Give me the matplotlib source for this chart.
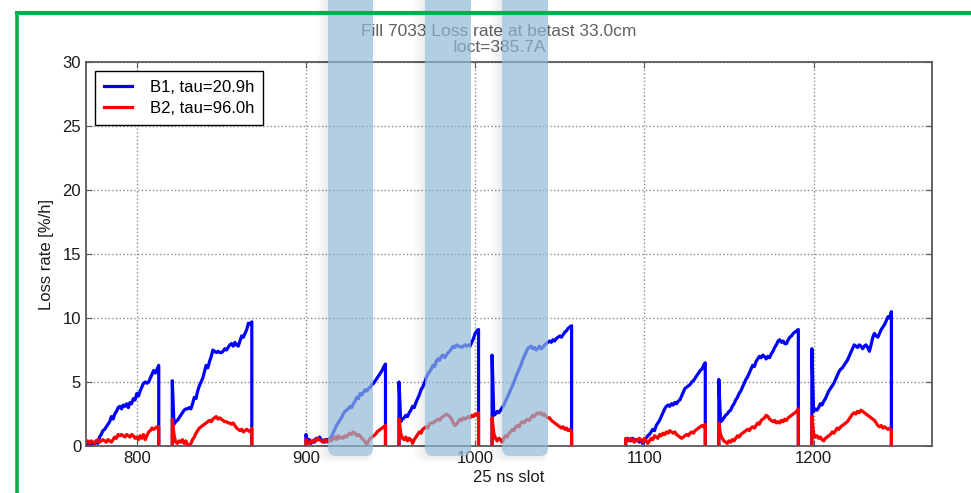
import numpy as np
import matplotlib
matplotlib.use("Agg")
import matplotlib.pyplot as plt
from matplotlib.patches import FancyBboxPatch

plt.rcParams["font.family"] = ["Liberation Sans", "DejaVu Sans"]

# bunch trains: first slot of each train, then per-slot loss rates [%/h]
train_start = [767, 821, 900, 955, 1010, 1089, 1144, 1199]

b1_t1 = [0.2, 0.4, 0.1,
         0.3, 0.1, 0.2, 0.0, 0.3, 0.1, 0.4, 0.2, 0.7, 0.9,
         1.2, 1.3, 1.5, 1.7, 1.9, 2.3, 2.1, 2.5, 2.7, 3.0,
         3.1, 2.9, 3.2, 3.1, 3.3, 3.0, 3.4, 3.3, 3.7, 3.6,
         4.1, 3.9, 4.3, 4.6, 4.9, 5.0, 4.9, 5.0, 5.3, 5.6,
         5.9, 5.7, 6.0, 6.3]
b1_t2 = [5.1, 1.7, 1.9, 2.0, 2.2, 2.4, 2.6, 2.8, 2.9, 2.9,
         3.0, 2.9, 3.3, 3.8, 3.7, 4.3, 4.7, 5.0, 5.3, 5.8,
         6.3, 6.1, 6.6, 7.0, 7.5, 7.4, 7.3, 7.4, 7.3, 7.3,
         7.4, 7.6, 7.5, 7.7, 7.9, 8.0, 7.8, 8.1, 7.9, 7.8,
         8.2, 8.6, 8.5, 8.8, 9.1, 9.6, 9.5, 9.7]
b1_t3 = [0.9, 0.3, 0.5, 0.2, 0.4, 0.3, 0.6, 0.5, 0.7, 0.5,
         0.4, 0.3, 0.5, 0.4, 0.6, 0.7, 1.0, 1.3, 1.6, 1.8,
         2.0, 2.2, 2.5, 2.7, 2.8, 2.9, 3.1, 3.0, 3.3, 3.5,
         3.8, 3.7, 4.1, 4.0, 4.2, 4.4, 4.3, 4.5, 4.6, 4.8,
         4.9, 5.1, 5.3, 5.5, 5.7, 5.9, 6.2, 6.4]
b1_t4 = [5.0, 1.9, 2.1, 2.2, 2.4, 2.3, 2.6, 2.8, 3.1, 3.0,
         3.4, 3.7, 4.0, 4.4, 4.6, 4.9, 5.3, 5.6, 5.8, 6.0,
         6.3, 6.2, 6.6, 6.8, 6.7, 7.0, 7.1, 6.9, 7.1, 7.3,
         7.4, 7.6, 7.8, 7.7, 7.9, 7.8, 7.8, 7.7, 7.8, 7.9,
         7.8, 7.9, 7.8, 8.1, 8.4, 8.8, 9.0, 9.1]
b1_t5 = [7.1, 2.4, 2.5, 2.7, 2.6, 2.8, 3.0, 3.2, 3.5, 3.8,
         4.1, 4.4, 4.7, 5.0, 5.4, 5.7, 6.0, 6.3, 6.7, 7.0,
         7.3, 7.6, 7.7, 7.8, 7.6, 7.7, 7.5, 7.6, 7.8, 7.6,
         7.7, 7.9, 8.0, 8.1, 8.2, 8.1, 8.3, 8.2, 8.4, 8.5,
         8.6, 8.5, 8.7, 8.9, 9.0, 9.2, 9.3, 9.4]
b1_t6 = [0.5, 0.6, 0.5, 0.4, 0.6, 0.5, 0.4, 0.5, 0.3, 0.4,
         0.2, 0.4, 0.6, 0.8, 0.9, 1.1, 1.3, 1.2, 1.6, 1.8,
         2.0, 2.3, 2.6, 2.9, 3.1, 3.2, 3.1, 3.3, 3.2, 3.4,
         3.3, 3.5, 3.6, 3.9, 4.2, 4.5, 4.6, 4.7, 4.8, 5.0,
         5.1, 5.3, 5.5, 5.7, 5.9, 6.0, 6.3, 6.5]
b1_t7 = [5.2, 1.9, 2.0, 2.2, 2.4, 2.5, 2.7, 2.8, 3.1, 3.3,
         3.6, 3.8, 4.1, 4.3, 4.6, 4.9, 5.2, 5.4, 5.7, 6.0,
         6.3, 6.2, 6.6, 6.8, 7.0, 6.9, 7.1, 7.0, 6.8, 7.0,
         6.9, 7.2, 7.4, 7.7, 7.9, 8.2, 8.3, 8.1, 8.2, 8.0,
         8.0, 8.3, 8.5, 8.6, 8.8, 8.9, 9.0, 9.1]
b1_t8 = [7.6, 2.7, 2.9, 2.8, 3.0, 3.3, 3.2, 3.5, 3.7, 4.0,
         4.3, 4.5, 4.7, 4.9, 5.2, 5.5, 5.8, 6.0, 6.1, 6.3,
         6.5, 6.7, 7.0, 7.3, 7.6, 7.9, 7.8, 7.7, 7.9, 7.8,
         7.6, 7.8, 7.9, 7.7, 7.4, 7.9, 8.5, 8.8, 8.6, 8.5,
         8.8, 9.1, 9.3, 9.5, 9.8, 10.1, 10.0, 10.5]

b2_t1 = [0.2, 0.3, 0.1,
         0.3, 0.4, 0.2, 0.4, 0.3, 0.2, 0.4, 0.5, 0.3, 0.4,
         0.5, 0.4, 0.3, 0.5, 0.4, 0.3, 0.5, 0.7, 0.6, 0.9,
         0.8, 0.9, 0.8, 0.7, 0.9, 0.8, 0.7, 0.9, 0.8, 0.6,
         0.7, 0.5, 0.8, 0.6, 0.9, 0.5, 0.8, 1.1, 1.2, 1.4,
         1.3, 1.4, 1.5, 1.5]
b2_t2 = [2.1, 0.9, 0.3, 0.2, 0.4, 0.3, 0.5, 0.2, 0.4, 0.1,
         0.0, 0.2, 0.5, 0.7, 1.0, 1.2, 1.4, 1.5, 1.6, 1.7,
         1.8, 1.9, 2.0, 1.9, 2.1, 2.2, 2.3, 2.1, 2.2, 2.1,
         2.0, 1.9, 1.9, 1.8, 1.8, 1.7, 1.8, 1.6, 1.4, 1.3,
         1.2, 1.3, 1.1, 1.2, 1.3, 1.2, 1.1, 1.4]
b2_t3 = [0.5, 0.3, 0.2, 0.4, 0.3, 0.5, 0.4, 0.6, 0.5, 0.4,
         0.3, 0.5, 0.4, 0.3, 0.5, 0.4, 0.6, 0.7, 0.5, 0.8,
         0.6, 0.7, 0.6, 0.8, 0.7, 0.9, 1.0, 0.9, 1.1, 1.0,
         0.8, 0.9, 0.8, 0.6, 0.5, 0.3, 0.1, 0.4, 0.6, 0.7,
         0.8, 0.9, 1.1, 1.2, 1.3, 1.4, 1.5, 1.6]
b2_t4 = [2.1, 1.0, 0.6, 0.5, 0.7, 0.4, 0.6, 0.5, 0.2, 0.5,
         0.7, 0.9, 1.1, 1.0, 1.3, 1.4, 1.5, 1.4, 1.7, 1.8,
         1.8, 1.9, 2.0, 2.1, 2.0, 2.2, 2.3, 2.4, 2.5, 2.4,
         2.3, 2.1, 1.8, 1.6, 1.7, 1.9, 2.1, 2.0, 2.2, 2.1,
         2.2, 2.3, 2.2, 2.4, 2.3, 2.5, 2.4, 2.6]
b2_t5 = [2.2, 1.0, 0.6, 0.4, 0.6, 0.5, 0.3, 0.6, 0.8, 0.7,
         1.0, 1.1, 1.3, 1.2, 1.5, 1.6, 1.5, 1.8, 1.9, 1.8,
         2.0, 2.1, 2.0, 2.2, 2.4, 2.3, 2.5, 2.6, 2.5, 2.6,
         2.4, 2.5, 2.3, 2.2, 2.2, 2.0, 1.9, 1.8, 1.7, 1.6,
         1.5, 1.4, 1.5, 1.3, 1.4, 1.2, 1.3, 1.1]
b2_t6 = [0.6, 0.5, 0.4, 0.6, 0.5, 0.3, 0.5, 0.4, 0.6, 0.5,
         0.3, 0.6, 0.4, 0.2, 0.4, 0.6, 0.5, 0.8, 0.7, 0.6,
         0.9, 0.8, 1.0, 0.9, 1.1, 1.0, 1.2, 1.1, 1.0, 1.1,
         0.9, 0.8, 0.7, 0.6, 0.7, 0.8, 0.9, 0.8, 1.0, 1.1,
         1.0, 1.2, 1.3, 1.4, 1.5, 1.6, 1.5, 1.7]
b2_t7 = [1.8, 0.9, 0.6, 0.4, 0.3, 0.2, 0.4, 0.3, 0.5, 0.4,
         0.6, 0.8, 0.7, 0.9, 1.0, 1.1, 1.2, 1.3, 1.2, 1.4,
         1.5, 1.4, 1.6, 1.8, 1.7, 2.0, 2.1, 2.2, 2.4, 2.3,
         2.1, 2.0, 1.9, 2.0, 1.8, 1.9, 1.8, 2.0, 1.9, 2.1,
         2.0, 2.2, 2.3, 2.4, 2.5, 2.6, 2.7, 2.9]
b2_t8 = [2.3, 1.0, 0.7, 0.8, 0.6, 0.7, 0.5, 0.4, 0.6, 0.7,
         0.8, 0.9, 1.1, 1.0, 1.2, 1.4, 1.3, 1.5, 1.6, 1.7,
         1.8, 1.9, 2.1, 2.3, 2.5, 2.6, 2.5, 2.7, 2.6, 2.8,
         2.7, 2.6, 2.5, 2.4, 2.3, 2.2, 2.1, 2.0, 1.8, 1.6,
         1.5, 1.6, 1.4, 1.5, 1.4, 1.3, 1.4, 1.2]

b1_trains = [b1_t1, b1_t2, b1_t3, b1_t4, b1_t5, b1_t6, b1_t7, b1_t8]
b2_trains = [b2_t1, b2_t2, b2_t3, b2_t4, b2_t5, b2_t6, b2_t7, b2_t8]

b1_label = "B1, tau=20.9h"
b2_label = "B2, tau=96.0h"
title = "Fill 7033 Loss rate at betast 33.0cm\nIoct=385.7A"


def trains_to_line(starts, trains):
    # each train drawn from 0 up, along the bunches, and back to 0; gaps left empty
    xs, ys = [], []
    for s, vals in zip(starts, trains):
        n = len(vals)
        xs += [s] + list(range(s, s + n)) + [s + n - 1, np.nan]
        ys += [0.0] + list(vals) + [0.0, np.nan]
    return np.array(xs, dtype=float), np.array(ys, dtype=float)


W, H = 971, 493
fig = plt.figure(figsize=(W / 100, H / 100), dpi=100)
ax = fig.add_axes([86 / W, 1 - 446 / H, 846 / W, 384 / H])

x1, y1 = trains_to_line(train_start, b1_trains)
x2, y2 = trains_to_line(train_start, b2_trains)
ax.plot(x1, y1, color="#0000ff", lw=2.3, label=b1_label)
ax.plot(x2, y2, color="#ff0000", lw=2.3, label=b2_label)

ax.set_xlim(770, 1270)
ax.set_ylim(0, 30)
ax.set_xticks([800, 900, 1000, 1100, 1200])
ax.set_yticks([0, 5, 10, 15, 20, 25, 30])
ax.grid(True, linestyle=":", color="0.55", lw=1)
ax.tick_params(direction="in", top=True, right=True, length=4, color="0.35",
               labelsize=12, labelcolor="#1a1a1a")
for sp in ax.spines.values():
    sp.set_color("0.35")
    sp.set_linewidth(1.3)
ax.set_xlabel("25 ns slot", fontsize=12, labelpad=3, color="#1a1a1a")
ax.set_ylabel("Loss rate [%/h]", fontsize=12, labelpad=6, color="#1a1a1a")

leg = ax.legend(loc="upper left", fontsize=12, fancybox=False, framealpha=1,
                edgecolor="black", handlelength=1.7, handletextpad=1.1,
                borderpad=0.5, labelspacing=0.4, borderaxespad=0.55)
leg.get_frame().set_linewidth(1)

fig.text(499 / W, 1 - 39.5 / H, title, ha="center", va="center",
         fontsize=12.5, color="#606060", linespacing=1.12)

# overlay in pixel coordinates: screenshot frame and highlight bands
ov = fig.add_axes([0, 0, 1, 1])
ov.set_xlim(0, W)
ov.set_ylim(H, 0)
ov.axis("off")
ov.patch.set_alpha(0)
ov.set_zorder(10)
ov.plot([15, W + 5], [12.5, 12.5], color="#00b050", lw=3, solid_capstyle="butt")
ov.plot([16.5, 16.5], [11, H + 5], color="#00b050", lw=2.6, solid_capstyle="butt")

for bx0, bx1 in [(328, 373), (425, 471), (502, 548)]:
    for k in range(6, 0, -1):
        ov.add_patch(FancyBboxPatch((bx0 - 2 * k, -30), bx1 - bx0 + 2 * k, 486 + k,
                                    boxstyle="round,pad=0,rounding_size=9",
                                    fc="black", ec="none", alpha=0.012))
    ov.add_patch(FancyBboxPatch((bx0, -30), bx1 - bx0, 486,
                                boxstyle="round,pad=0,rounding_size=8",
                                fc="#94bfdd", ec="none", alpha=0.67))

fig.savefig("out.png", dpi=100)
